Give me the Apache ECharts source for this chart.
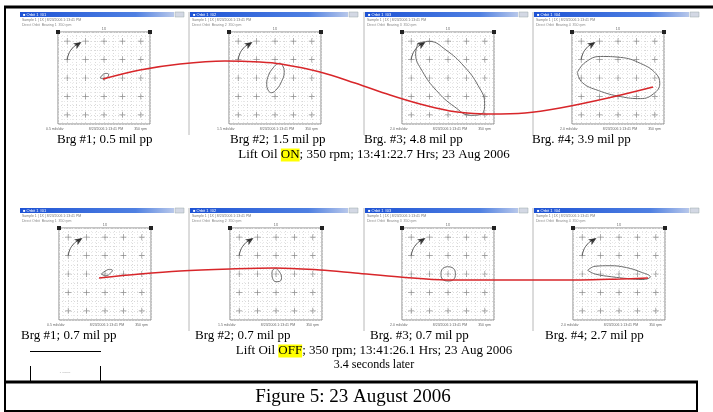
<!DOCTYPE html>
<html><head><meta charset="utf-8">
<script src="https://cdn.jsdelivr.net/npm/echarts@6/dist/echarts.min.js"></script>
<style>html,body{margin:0;padding:0;background:#fff}#c{width:713px;height:412px}</style>
</head><body><div id="c"></div>
<script>
// ---------------- DATA ----------------
const topLabels = ['Brg #1; 0.5 mil pp', 'Brg #2; 1.5 mil pp', 'Brg. #3; 4.8 mil pp', 'Brg. #4; 3.9 mil pp'];
const bottomLabels = ['Brg #1; 0.7 mil pp', 'Brg #2; 0.7 mil pp', 'Brg. #3; 0.7 mil pp', 'Brg. #4; 2.7 mil pp'];
const topState = 'ON';
const topInfo = '; 350 rpm; 13:41:22.7 Hrs; 23 Aug 2006';
const bottomState = 'OFF';
const bottomInfo = '; 350 rpm; 13:41:26.1 Hrs; 23 Aug 2006';
const laterNote = '3.4 seconds later';
const caption = 'Figure 5: 23 August 2006';
const scaleText = ['0.5 mils/div', '1.5 mils/div', '2.0 mils/div', '2.0 mils/div'];

// cross marks at each division (divisions, centre = 0)
const crossTicks = [-2, -1, 0, 1, 2];
// keyphasor arc with its arrow (divisions)
const arcPoints = [[-2, 1], [-1.92, 1.3], [-1.75, 1.58], [-1.52, 1.79], [-1.3, 1.91]];
const arrowTip = [-1.22, 1.95];

// orbits (divisions, y up)
const orbitTop1 = [[-0.2, 0], [-0.1, 0.15], [0.1, 0.25], [0.25, 0.2], [0.2, 0.05], [0, -0.05], [-0.2, 0]];
const orbitTop2 = [[0.3, 0.8], [0.45, 0.6], [0.5, 0.3], [0.35, -0.2], [0.1, -0.6], [-0.2, -0.8], [-0.35, -0.7], [-0.45, -0.35], [-0.35, 0.15], [-0.1, 0.55], [0.15, 0.78], [0.3, 0.8]];
const orbitTop3 = [[-1.62, 1.9], [-1.02, 1.99], [-0.11, 1.52], [0.86, 0.65], [1.63, -0.4], [1.99, -1.37], [1.86, -1.94], [1.26, -2.03], [0.35, -1.56], [-0.62, -0.69], [-1.39, 0.36], [-1.76, 1.32], [-1.62, 1.9]];
const orbitTop4 = [[-2.21, 0.3], [-1.78, 0.85], [-0.96, 1.17], [0.14, 1.12], [1.23, 0.79], [2.05, 0.25], [2.27, -0.3], [1.94, -0.85], [1.23, -1.12], [0.14, -1.01], [-1.07, -0.68], [-1.94, -0.25], [-2.21, 0.3]];
const orbitBot1 = [[-0.2, 0], [0, 0.15], [0.25, 0.25], [0.4, 0.2], [0.3, 0.05], [0.05, -0.1], [-0.2, 0]];
const orbitBot2 = [[0, 0.3], [0.2, 0.1], [0.3, -0.2], [0.2, -0.4], [0, -0.42], [-0.18, -0.25], [-0.22, 0.05], [-0.1, 0.28], [0, 0.3]];
const orbitBot3 = [[0, 0.4], [0.3, 0.3], [0.4, 0], [0.3, -0.3], [0, -0.38], [-0.3, -0.28], [-0.38, 0], [-0.28, 0.3], [0, 0.4]];
const orbitBot4 = [[-1.7, 0.2], [-1.3, 0.42], [-0.5, 0.45], [0.4, 0.35], [1.2, 0.1], [1.7, -0.15], [1.3, -0.3], [0.5, -0.25], [-0.4, -0.15], [-1.3, 0], [-1.7, 0.2]];

// red trend lines across the panels (figure coordinates: x 0..713, y 0..412 downwards)
const redTop = [[103, 79], [140, 70], [180, 64], [225, 61], [260, 62], [281, 64], [320, 72], [355, 83], [390, 95], [420, 104], [450, 111], [467, 113], [490, 114], [525, 113], [560, 108], [608, 98], [653, 87]];
const redBottom = [[99, 278], [140, 274], [180, 271], [230, 269], [275, 268], [320, 270], [355, 273], [400, 277], [447, 280], [490, 280], [530, 280], [580, 280], [620, 279], [648, 278]];

// ---------------- LAYOUT ----------------
const orbits = [orbitTop1, orbitTop2, orbitTop3, orbitTop4, orbitBot1, orbitBot2, orbitBot3, orbitBot4];
const BOX = 92;
const boxes = [[58, 32], [229, 32], [402, 32], [572, 32], [59, 228], [230, 228], [402, 228], [573, 228]];
const winLeft = [18, 188, 363, 532];
const winRight = [186, 360, 530, 701];
const rowOff = [0, 196];
const serif = '"Liberation Serif", "Times New Roman", serif';

const grids = [], xAxes = [], yAxes = [], series = [], graphic = [];
const crosses = [];
crossTicks.forEach(x => crossTicks.forEach(y => crosses.push([x, y])));

boxes.forEach((b, i) => {
  grids.push({left: b[0], top: b[1], width: BOX, height: BOX, show: true, borderColor: '#8a8a8a', borderWidth: 1, backgroundColor: '#fff'});
  const ax = {gridIndex: i, type: 'value', min: -2.5, max: 2.5, interval: 0.5,
    axisLine: {show: false}, axisTick: {show: false}, axisLabel: {show: false},
    splitLine: {show: true, lineStyle: {color: '#d9d9d9', type: [1, 2], width: 1}},
    minorSplitLine: {show: true, lineStyle: {color: '#e8e8e8', type: [1, 2], width: 1}},
    minorTick: {show: false, splitNumber: 2}};
  xAxes.push(Object.assign({}, ax));
  yAxes.push(Object.assign({}, ax));
  series.push({type: 'scatter', xAxisIndex: i, yAxisIndex: i, data: crosses, symbol: 'path://M4.4,0h1.2v10h-1.2zM0,4.4h10v1.2h-10z', symbolSize: 6, itemStyle: {color: '#777'}, silent: true, z: 3});
  series.push({type: 'line', xAxisIndex: i, yAxisIndex: i, data: arcPoints, smooth: 0.5, showSymbol: false, lineStyle: {color: '#555', width: 1}, silent: true, z: 4});
  series.push({type: 'scatter', xAxisIndex: i, yAxisIndex: i, data: [arrowTip], symbol: 'arrow', symbolSize: [5, 8], symbolRotate: -58, itemStyle: {color: '#111'}, silent: true, z: 5});
  series.push({type: 'line', xAxisIndex: i, yAxisIndex: i, data: orbits[i], smooth: 0.45, showSymbol: false, lineStyle: {color: '#6a6a6a', width: 1}, silent: true, z: 4});
});

// overlay grid for the red trend lines
grids.push({left: 0, top: 0, right: 0, bottom: 0, show: false});
xAxes.push({gridIndex: 8, type: 'value', min: 0, max: 713, show: false});
yAxes.push({gridIndex: 8, type: 'value', min: 0, max: 412, inverse: true, show: false});
[redTop, redBottom].forEach(d => series.push({type: 'line', xAxisIndex: 8, yAxisIndex: 8, data: d, smooth: 0.35, showSymbol: false, lineStyle: {color: '#d8262a', width: 1.5}, silent: true, z: 10}));

// window decorations
rowOff.forEach((dy, r) => {
  for (let k = 0; k < 4; k++) {
    const b = boxes[r * 4 + k];
    const x0 = winLeft[k], x1 = winRight[k];
    graphic.push({type: 'rect', shape: {x: x0 + 2, y: 12 + dy, width: x1 - x0 - 14, height: 5},
      style: {fill: {type: 'linear', x: 0, y: 0, x2: 1, y2: 0, colorStops: [{offset: 0, color: '#1d52d4'}, {offset: 0.75, color: '#4f80e2'}, {offset: 1, color: '#b7c7ea'}]}}, z: 1});
    graphic.push({type: 'rect', shape: {x: x1 - 11, y: 12 + dy, width: 9, height: 5}, style: {fill: '#d3d8e4', stroke: '#9aa', lineWidth: 0.5}, z: 1});
    graphic.push({type: 'text', x: x0 + 5, y: 12.5 + dy, style: {text: '\u25A0 Orbit 1 #0' + (k + 1), fill: '#fff', font: '4px sans-serif'}, z: 2});
    if (k > 0) graphic.push({type: 'line', shape: {x1: x0 + 1, y1: 12 + dy, x2: x0 + 1, y2: 135 + dy}, style: {stroke: '#b8b8b8', lineWidth: 1}, z: 1});
    graphic.push({type: 'text', x: x0 + 4, y: 18.5 + dy, style: {text: 'Sample 1 | 1X | 8/23/2006 1:13:41 PM', fill: '#777', font: '3.5px sans-serif'}, z: 2});
    graphic.push({type: 'text', x: x0 + 4, y: 23 + dy, style: {text: 'Direct Orbit  Bearing ' + (k + 1) + '  350 rpm', fill: '#888', font: '3.5px sans-serif'}, z: 2});
    graphic.push({type: 'rect', shape: {x: b[0] - 2, y: b[1] - 2, width: 4, height: 4}, style: {fill: '#222'}, z: 6});
    graphic.push({type: 'rect', shape: {x: b[0] + BOX - 2, y: b[1] - 2, width: 4, height: 4}, style: {fill: '#222'}, z: 6});
    graphic.push({type: 'text', x: b[0] + BOX / 2, y: b[1] - 5, style: {text: '1X', fill: '#666', font: '3.5px sans-serif', align: 'center'}, z: 2});
    graphic.push({type: 'text', x: b[0] - 12, y: b[1] + BOX + 3, style: {text: scaleText[k], fill: '#666', font: '3.5px sans-serif'}, z: 2});
    graphic.push({type: 'text', x: b[0] + BOX / 2 + 2, y: b[1] + BOX + 3, style: {text: '8/23/2006 1:13:41 PM', fill: '#666', font: '3.5px sans-serif', align: 'center'}, z: 2});
    graphic.push({type: 'text', x: b[0] + BOX - 3, y: b[1] + BOX + 3, style: {text: '350 rpm', fill: '#666', font: '3.5px sans-serif', align: 'right'}, z: 2});
  }
});

// bearing labels
const topLabelX = [57, 230, 364, 532];
const botLabelX = [21, 195, 370, 545];
topLabels.forEach((t, k) => graphic.push({type: 'text', x: topLabelX[k], y: 140, style: {text: t, fill: '#000', font: '13px ' + serif, verticalAlign: 'middle'}, z: 20}));
bottomLabels.forEach((t, k) => graphic.push({type: 'text', x: botLabelX[k], y: 336, style: {text: t, fill: '#000', font: '13px ' + serif, verticalAlign: 'middle'}, z: 20}));

const rich = {a: {fontFamily: serif, fontSize: 13, color: '#000'}, h: {fontFamily: serif, fontSize: 13, color: '#000', backgroundColor: '#ffff00'}};
graphic.push({type: 'text', x: 374, y: 155, style: {text: '{a|Lift Oil }{h|' + topState + '}{a|' + topInfo + '}', rich: rich, align: 'center', verticalAlign: 'middle'}, z: 20});
graphic.push({type: 'text', x: 374, y: 351, style: {text: '{a|Lift Oil }{h|' + bottomState + '}{a|' + bottomInfo + '}', rich: rich, align: 'center', verticalAlign: 'middle'}, z: 20});
graphic.push({type: 'text', x: 374, y: 365, style: {text: laterNote, fill: '#000', font: '12px ' + serif, align: 'center', verticalAlign: 'middle'}, z: 20});
graphic.push({type: 'text', x: 353, y: 397, style: {text: caption, fill: '#000', font: '19px ' + serif, align: 'center', verticalAlign: 'middle'}, z: 20});

// frame lines
const L = (x1, y1, x2, y2, w) => graphic.push({type: 'line', shape: {x1, y1, x2, y2}, style: {stroke: '#000', lineWidth: w}, z: 30});
L(4, 7, 713, 7, 3);
L(5, 6, 5, 412, 2);
L(4, 382, 698, 382, 3);
L(697, 381, 697, 412, 2);
L(4, 411, 698, 411, 2);
// small bracket lower left
L(30, 351.5, 101, 351.5, 1);
L(30.5, 366, 30.5, 381, 1);
L(100.5, 366, 100.5, 381, 1);
graphic.push({type: 'text', x: 65, y: 370, style: {text: '- ------', fill: '#aaa', font: '4px sans-serif', align: 'center'}, z: 20});

const chart = echarts.init(document.getElementById('c'), null, {renderer: 'canvas'});
chart.setOption({animation: false, backgroundColor: '#fff', grid: grids, xAxis: xAxes, yAxis: yAxes, series: series, graphic: graphic});
</script></body></html>
